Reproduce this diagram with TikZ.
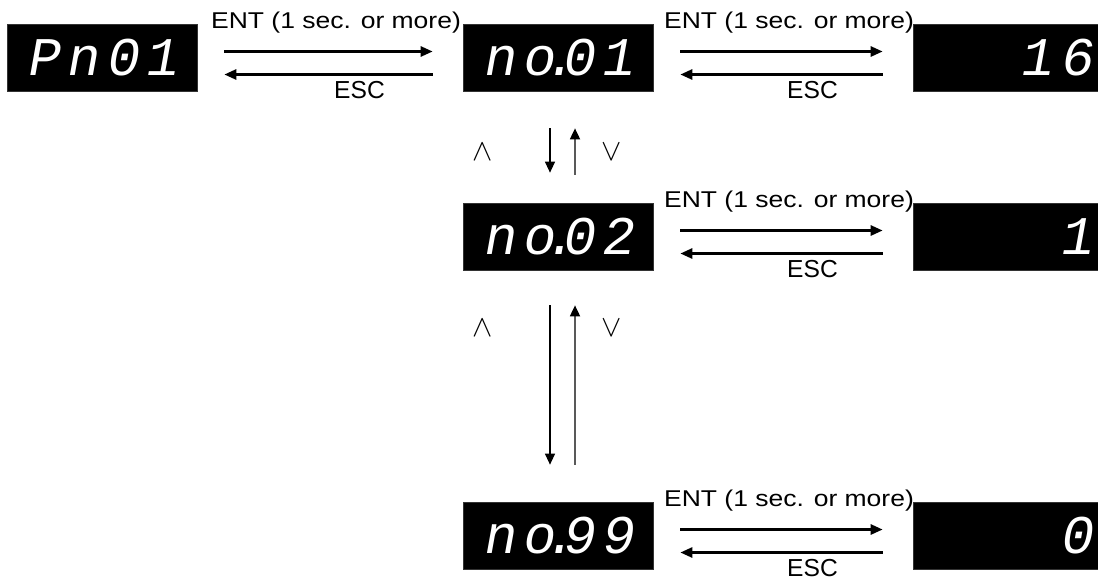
\documentclass[tikz,border=0pt]{standalone}
\usepackage{fontspec}
\setmainfont{Liberation Sans}
\newfontfamily\segfont[FakeSlant=0.18,LetterSpace=12]{Liberation Mono}
\newfontfamily\entfont[FakeStretch=1.16]{Liberation Sans}
\usetikzlibrary{arrows.meta,positioning,calc}

\begin{document}
\begin{tikzpicture}[x=0.02cm, y=-0.02cm,
  disp/.style={fill=black, draw=black!80, minimum width=3.8cm, minimum height=1.34cm, inner sep=0pt, text=white, font=\segfont\fontsize{31}{31}\selectfont},
  val/.style={disp, minimum width=3.7cm, text width=3.45cm, align=right},
  arr/.style={-{Triangle[length=0.24cm,width=0.2cm]}, line width=1.5pt},
  varr/.style={-{Triangle[length=0.22cm,width=0.2cm,color=black]}, line width=0.7pt},
  lbl/.style={font=\fontsize{14}{16}\selectfont},
  sym/.style={font=\fontsize{17}{19}\selectfont}
]
\useasboundingbox (0,0) rectangle (1098,582);
% displays
\node[disp] (pn) at (102,57.5) {Pn01};
\node[disp] (no1) at (558,57.5) {no\kern-0.22em.\kern-0.25em01};
\node[disp] (no2) at (558,236.5) {no\kern-0.22em.\kern-0.25em02};
\node[disp] (no99) at (558,535.5) {no\kern-0.22em.\kern-0.25em99};
\node[val] (v16) at (1005.5,57.5) {16};
\node[val] (v1) at (1005.5,236.5) {1};
\node[val] (v0) at (1005.5,535.5) {0};
% ENT / ESC
\foreach \a/\b in {pn/no1,no1/v16,no2/v1,no99/v0}{
  \draw[arr] ($(\a.east)+(27,-6)$) -- node[lbl, above=0.23cm, xshift=0.15cm, font=\entfont\fontsize{13}{15}\selectfont]{ENT (1 sec. or more)} ($(\b.west)+(-30,-6)$);
  \draw[arr] ($(\b.west)+(-30,17)$) -- node[lbl, below=0pt, xshift=0.62cm]{ESC} ($(\a.east)+(27,17)$);
}
% up / down
\draw[varr] ($(no1.south)+(-8,37)$) -- node[sym, pos=0.53, xshift=-1.34cm]{$\wedge$} ($(no2.north)+(-8,-30)$);
\draw[varr, draw=black!65, line width=1pt] ($(no2.north)+(17,-28)$) -- node[sym, pos=0.49, xshift=0.74cm]{$\vee$} ($(no1.south)+(17,37)$);
\draw[varr] ($(no2.south)+(-8,35)$) -- node[sym, pos=0.14, xshift=-1.34cm]{$\wedge$} ($(no99.north)+(-8,-37)$);
\draw[varr, draw=black!65, line width=1pt] ($(no99.north)+(17,-37)$) -- node[sym, pos=0.86, xshift=0.74cm]{$\vee$} ($(no2.south)+(17,35)$);
\end{tikzpicture}
\end{document}
